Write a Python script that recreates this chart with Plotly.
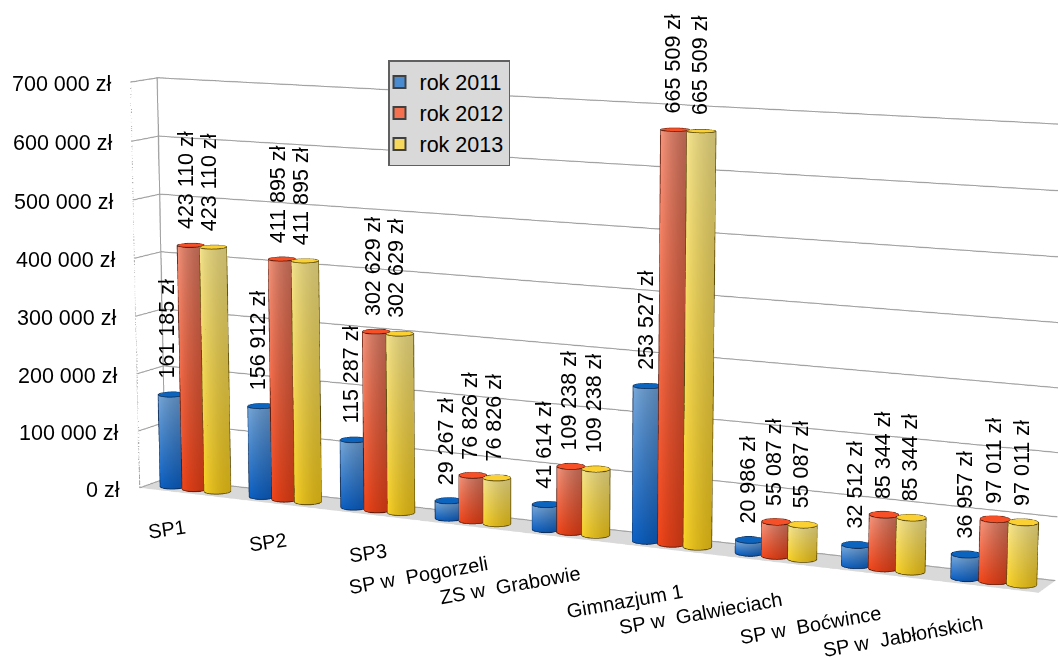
import numpy as np
import plotly.graph_objects as go

categories = ["SP1", "SP2", "SP3", "SP w  Pogorzeli", "ZS w  Grabowie", "Gimnazjum 1",
              "SP w  Galwieciach", "SP w  Boćwince", "SP w  Jabłońskich"]
rok_2011 = [161185, 156912, 115287, 29267, 41614, 253527, 20986, 32512, 36957]
rok_2012 = [423110, 411895, 302629, 76826, 109238, 665509, 55087, 85344, 97011]
rok_2013 = [423110, 411895, 302629, 76826, 109238, 665509, 55087, 85344, 97011]
z_ticks = [0, 100000, 200000, 300000, 400000, 500000, 600000, 700000]

PW, PH = 1058, 658          # page
KF = 4                      # long-lens view: the scene is drawn larger than the page and cropped
W, H = PW*KF, PH*KF
OX, OY = (W-PW)/2, (H-PH)/2
XR = (-0.5, 8.5); YR = (0.0, 1.0); ZR = (0.0, 700000.0)
SX = 1.036
AX, AY, AZ = 2.0, 0.1029, 0.8999
EYE = np.array([2.8110, -5.8118, 1.1481])
CEN = np.array([-0.0731, -0.0406, -0.0195])
UP = np.array([0.0027, 0.0014, 1.0])

def fmt(v):
    return f"{v:,}".replace(",", " ") + " zł"

def project(w):
    s = np.array([(w[0]-4.0)/9*AX, (w[1]-.5)*AY, (w[2]-35e4)/7e5*AZ])
    f = CEN-EYE; f = f/np.linalg.norm(f)
    r = np.cross(f, UP); r = r/np.linalg.norm(r)
    u = np.cross(r, f)
    d = s-EYE
    zc = d@f
    F = 1/np.tan(np.pi/8)
    return W/2*(1+SX*F/(W/H)*(d@r)/zc)-OX, H/2*(1-F*(d@u)/zc)-OY

series = [
    ("rok 2011", rok_2011, "#4a8bd0", ((125,176,226),(88,130,176),(10,100,205),(10,78,160)), (12,100,190), "#0e2f5c"),
    ("rok 2012", rok_2012, "#f4704e", ((255,156,130),(176,98,80),(250,72,26),(190,52,18)), (245,80,40), "#5c1a0a"),
    ("rok 2013", rok_2013, "#f5d85c", ((252,234,145),(200,186,112),(255,216,40),(200,165,20)), (250,208,50), "#5c4a0a"),
]

RX = 0.25/2
RY = RX*(AX/9)/AY
CY = .45
N = 48
FONT = "Liberation Sans"

def lerp(a, b, t):
    return tuple(a[k]+(b[k]-a[k])*t for k in range(3))

def css(c):
    return "rgb(%d,%d,%d)" % tuple(round(v) for v in c)

fig = go.Figure()
annotations = []
for j, (name, vals, swatch, grad, capc, edge) in enumerate(series):
    X, Y, Z, I, K, L, C = [], [], [], [], [], [], []
    lx, ly, lz = [], [], []
    for i, v in enumerate(vals):
        cx = i+(j-1)*0.25+0.004*i
        cy = CY
        base = len(X)
        th = np.linspace(0, 2*np.pi, N, endpoint=False)
        for t in th:
            right = (1+np.cos(t))/2
            colT = lerp(grad[0], grad[1], right)
            colB = lerp(grad[2], grad[3], right)
            X += [cx+RX*np.cos(t)]*2; Y += [cy+RY*np.sin(t)]*2; Z += [0, v]
            C += [css(colB), css(colT)]
        for k in range(N):
            a, b = base+2*k, base+2*((k+1) % N)
            I += [a, a+1]; K += [b, b]; L += [a+1, b+1]
        c0 = len(X)
        X.append(cx); Y.append(cy); Z.append(v); C.append(css(capc))
        for t in th:
            X.append(cx+RX*np.cos(t)); Y.append(cy+RY*np.sin(t)); Z.append(v); C.append(css(capc))
        for k in range(N):
            I.append(c0); K.append(c0+1+k); L.append(c0+1+(k+1) % N)
        e = 1.015
        for zz in (0, v):
            tt = np.linspace(0, 2*np.pi, N+1)
            lx += list(cx+e*RX*np.cos(tt))+[None]
            ly += list(cy+e*RY*np.sin(tt))+[None]
            lz += [zz]*(N+1)+[None]
        sx = (cx-4)/9*AX; sy = (cy-.5)*AY
        phi = np.arctan2(EYE[1]-sy, EYE[0]-sx)
        for s in (1, -1):
            t = phi+s*np.pi/2
            px, py = cx+e*RX*np.cos(t), cy+e*RY*np.sin(t)
            lx += [px, px, None]; ly += [py, py, None]; lz += [0, v, None]
        annotations.append(dict(x=cx, y=cy, z=v, text=fmt(v), textangle=-90, showarrow=False,
                                xanchor="center", yanchor="bottom", xshift=-4+0.4*i, yshift=14,
                                font=dict(family=FONT, size=21.5, color="black")))
    fig.add_trace(go.Mesh3d(x=X, y=Y, z=Z, i=I, j=K, k=L, vertexcolor=C, flatshading=False,
                            lighting=dict(ambient=1, diffuse=0, specular=0, roughness=1, fresnel=0),
                            hoverinfo="skip", showlegend=False, showscale=False))
    fig.add_trace(go.Scatter3d(x=lx, y=ly, z=lz, mode="lines", line=dict(color=edge, width=1.5),
                               hoverinfo="skip", showlegend=False))
    fig.add_trace(go.Scatter3d(x=[None], y=[None], z=[None], mode="markers", name=name,
                               marker=dict(symbol="square", size=13, color=swatch,
                                           line=dict(color="#404040", width=1))))

xa, xb = XR; ya, yb = YR; z0, z1 = ZR
nudge_x, nudge_y = 0.006, 0.03   # keeps the back corner line clear of the grid plane
fig.add_trace(go.Scatter3d(
    x=[xa, xa, xa+nudge_x, xa+nudge_x, None, xa, xb], y=[ya, ya, yb-nudge_y, yb-nudge_y, None, yb, yb],
    z=[z0, z1, z1, z0, None, z1, z1],
    mode="lines", line=dict(color="#a0a0a0", width=2), hoverinfo="skip", showlegend=False))

for t in z_ticks:
    annotations.append(dict(x=xa, y=ya, z=t, text=fmt(t), showarrow=False, xanchor="right", yanchor="middle",
                            xshift=-18, yshift=-2, font=dict(family=FONT, size=21.5, color="black")))
label_center = [(167,530),(268,543),(368,553),(419,575),(511,585),(626,601),(702,612),(812,624),(905,635)]
label_angle = [-8, -8, -8, -10, -10, -10, -10, -10, -10]
for i, c in enumerate(categories):
    px, py = project((i, ya, 0))
    annotations.append(dict(x=i, y=ya, z=0, text=c, showarrow=False, textangle=label_angle[i],
                            xanchor="center", yanchor="middle",
                            xshift=label_center[i][0]-px, yshift=py-label_center[i][1],
                            font=dict(family=FONT, size=20, color="black")))

ax_common = dict(showticklabels=False, ticks="", title="", zeroline=False, showspikes=False, showline=False)
fig.update_layout(
    width=W, height=H, margin=dict(l=0, r=0, t=0, b=0), paper_bgcolor="white",
    font=dict(family=FONT, size=21.5, color="black"),
    legend=dict(x=(OX+388)/W, y=1-(OY+60)/H, xanchor="left", yanchor="top", bgcolor="#d9d9d9", bordercolor="#606060",
                borderwidth=1.5, font=dict(size=21.5), itemsizing="constant", indentation=-10),
    scene=dict(
        domain=dict(x=[0, 1], y=[0, 1]),
        aspectmode="manual", aspectratio=dict(x=AX, y=AY, z=AZ),
        camera=dict(eye=dict(x=EYE[0], y=EYE[1], z=EYE[2]), center=dict(x=CEN[0], y=CEN[1], z=CEN[2]),
                    up=dict(x=UP[0], y=UP[1], z=UP[2]), projection=dict(type="perspective")),
        xaxis=dict(range=list(XR), showgrid=False, showbackground=False, **ax_common),
        yaxis=dict(range=list(YR), showgrid=False, showbackground=False, **ax_common),
        zaxis=dict(range=list(ZR), tickvals=z_ticks, showgrid=True, gridcolor="#a0a0a0", gridwidth=2,
                   showbackground=True, backgroundcolor="#d9d9d9", **ax_common),
        annotations=annotations,
    ),
)
crop = ("document.documentElement.style.overflow='hidden';document.body.style.overflow='hidden';"
        "document.body.style.margin='0';var g=document.getElementById('{plot_id}');"
        f"g.style.position='absolute';g.style.left='{-OX}px';g.style.top='{-OY}px';")
fig.write_html("out.html", post_script=crop, config={"displayModeBar": False})
